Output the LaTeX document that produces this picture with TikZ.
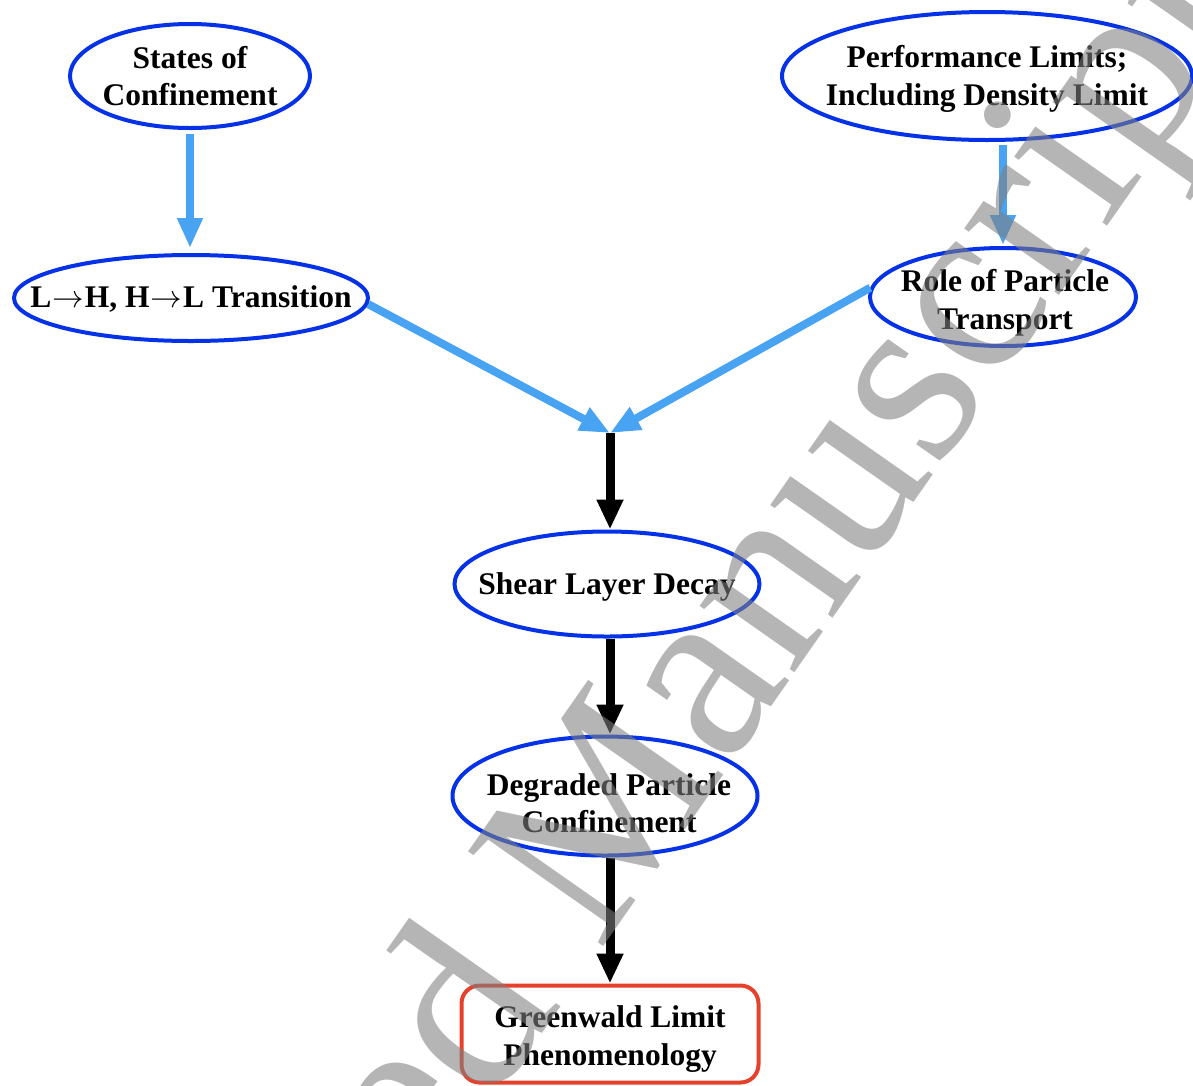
\RequirePackage{fix-cm}
\documentclass[tikz,border=0pt]{standalone}
\usepackage{fontspec}
\setmainfont{Liberation Serif}
\usetikzlibrary{shapes.geometric,arrows.meta}
\definecolor{ellblue}{RGB}{5,50,230}
\definecolor{arrblue}{RGB}{72,163,242}
\definecolor{boxred}{RGB}{228,66,44}
\newcommand{\tarr}{\kern1pt$\rightarrow$\kern1pt}
\begin{document}
\begin{tikzpicture}[x=1pt,y=-1pt,
  ell/.style={ellipse, draw=ellblue, line width=4pt, inner sep=0pt},
  lbl/.style={font=\fontsize{31.5}{37.5}\selectfont\bfseries, align=center, inner sep=0pt},
  barrow/.style={draw=arrblue, line width=8pt, -{Triangle[width=24pt,length=30pt]}},
  karrow/.style={draw=black, line width=9pt, -{Triangle[width=25pt,length=30pt]}},
  wm/.style={font=\fontsize{252}{252}\selectfont, text=black!50, text opacity=0.58, inner sep=0pt}
]
\useasboundingbox (0,0) rectangle (1193,1085);
\fill[white] (0,0) rectangle (1193,1085);

% nodes
\node[ell, minimum width=240pt, minimum height=104pt] (st) at (190,76) {};
\node[lbl] (stt) at (190,76) {States of\\Confinement};
\node[ell, minimum width=410pt, minimum height=128pt] (pf) at (987,76) {};
\node[lbl] (pft) at (987,79) {Performance Limits;\\Including Density Limit};
\node[ell, minimum width=354pt, minimum height=86pt] (lh) at (191,298) {};
\node[lbl] (lht) at (191,299) {L\tarr H, H\tarr L Transition};
\node[ell, minimum width=266pt, minimum height=98pt] (rp) at (1003,297) {};
\node[lbl] (rpt) at (1005,303) {Role of Particle\\Transport};
\node[ell, minimum width=305pt, minimum height=105pt] (sh) at (607,584) {};
\node[lbl] (sht) at (607,587) {Shear Layer Decay};
\node[ell, minimum width=305pt, minimum height=119pt] (dg) at (605,796) {};
\node[lbl] (dgt) at (609,803) {Degraded Particle\\Confinement};
\node[draw=boxred, line width=4pt, rounded corners=18pt, minimum width=297pt, minimum height=97pt, inner sep=0pt] (gw) at (610,1034) {};
\node[lbl] (gwt) at (610,1039) {Greenwald Limit\\Phenomenology};

\coordinate (jn) at (610,433);

% connectors
\draw[barrow, shorten <=4pt, shorten >=5pt] (st.south) -- (st.south |- lh.north);
\draw[barrow, shorten <=3pt, shorten >=1pt] (rp.north |- pf.south) -- (rp.north);
\draw[barrow] (lh.-2) -- (jn);
\draw[barrow] (rp.176) -- (jn);
\draw[karrow] (jn) -- (jn |- sh.north);
\draw[karrow] (jn |- sh.south) -- (jn |- dg.north);
\draw[karrow] (jn |- dg.south) -- (jn |- gw.north);

% watermark
\begin{scope}
\clip (0,0) rectangle (1193,1085);
\node[wm, rotate=55, anchor=base west] (wmk) at (17,1784) {Accepted Manuscript};
\end{scope}
\end{tikzpicture}
\end{document}
